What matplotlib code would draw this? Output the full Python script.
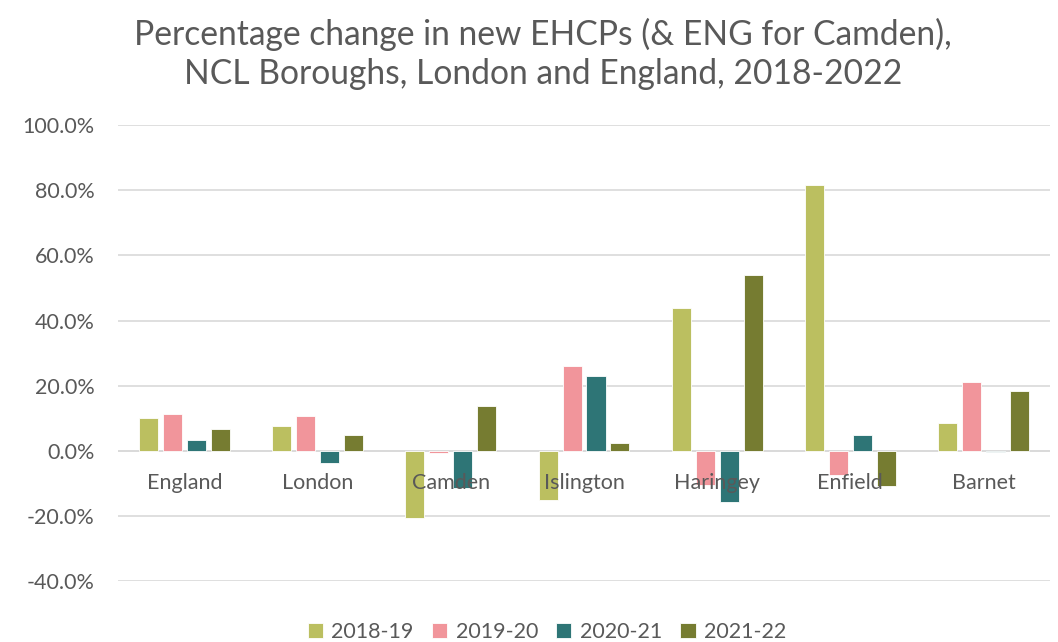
import matplotlib
matplotlib.use('Agg')
import matplotlib.pyplot as plt
import numpy as np

# data (percent change)
areas = ['England', 'London', 'Camden', 'Islington', 'Haringey', 'Enfield', 'Barnet']
years = ['2018-19', '2019-20', '2020-21', '2021-22']
y1819 = [10.1, 7.6, -20.7, -15.2, 43.7, 81.6, 8.6]
y1920 = [11.4, 10.7, -0.8, 26.0, -10.4, -7.3, 21.2]
y2021 = [3.4, -3.7, -11.4, 23.1, -15.8, 4.7, -0.4]
y2122 = [6.6, 4.8, 13.8, 2.4, 54.1, -10.7, 18.3]
series = [y1819, y1920, y2021, y2122]
colours = ['#BBBF60', '#F1959B', '#2E7576', '#767C31']

plt.rcParams['font.family'] = ['Lato', 'DejaVu Sans']
txt = '#595959'

fig = plt.figure(figsize=(10.58, 6.42), dpi=100)
ax = fig.add_axes([0.1115, 0.095, 0.881, 0.71])

x = np.arange(len(areas))
step = 0.18
width = 0.143
for i, (vals, col, lab) in enumerate(zip(series, colours, years)):
    ax.bar(x + (i - 1.5) * step, vals, width, color=col, label=lab,
           edgecolor='white', linewidth=0.6, zorder=3)

ax.set_ylim(-40, 100)
ax.set_xlim(-0.5, len(areas) - 0.5)
ax.set_yticks(np.arange(-40, 101, 20))
ax.set_yticklabels(['%.1f%%' % v for v in np.arange(-40, 101, 20)], color=txt, fontsize=15.5)
ax.yaxis.grid(True, color='#D9D9D9', linewidth=1.2, zorder=0)
ax.tick_params(axis='y', length=0, pad=17)
ax.set_xticks([])
for s in ax.spines.values():
    s.set_visible(False)
ax.axhline(0, color='#D9D9D9', linewidth=1.2, zorder=1)

# category labels sit just under the zero line, like Excel
for xi, name in zip(x, areas):
    ax.text(xi, -6.8, name, ha='center', va='top', fontsize=15.5, color=txt, zorder=5)

fig.suptitle('Percentage change in new EHCPs (& ENG for Camden),\nNCL Boroughs, London and England, 2018-2022',
             fontsize=24.2, color=txt, x=0.513, y=0.972, linespacing=1.25)

leg = fig.legend(loc='lower center', ncol=4, frameon=False, fontsize=15.5,
                 bbox_to_anchor=(0.517, -0.03), handlelength=0.7, handleheight=0.7,
                 columnspacing=0.85, handletextpad=0.4)
for t in leg.get_texts():
    t.set_color(txt)

plt.savefig('out.png', dpi=100)
